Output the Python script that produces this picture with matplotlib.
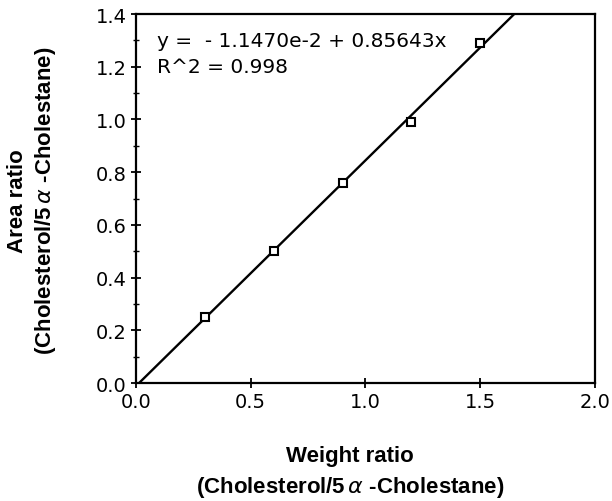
import matplotlib.pyplot as plt
import numpy as np
from matplotlib.ticker import MultipleLocator

plt.rcParams['font.family'] = ['DejaVu Sans']

# data
weight_ratio = [0.3, 0.6, 0.9, 1.2, 1.5]
area_ratio = [0.25, 0.50, 0.76, 0.99, 1.29]
intercept = -1.1470e-2
slope = 0.85643

fig = plt.figure(figsize=(6.12, 5.02), dpi=100)
ax = fig.add_axes([0.2222, 0.235, 0.75, 0.735])

xfit = np.array([0.0, 2.0])
ax.plot(xfit, intercept + slope * xfit, color='black', linewidth=1.7)
ax.plot(weight_ratio, area_ratio, linestyle='none', marker='s', markersize=5.5,
        markerfacecolor='white', markeredgecolor='black', markeredgewidth=1.5)

ax.set_xlim(0, 2.0)
ax.set_ylim(0, 1.4)
ax.xaxis.set_major_locator(MultipleLocator(0.5))
ax.yaxis.set_major_locator(MultipleLocator(0.2))
ax.yaxis.set_minor_locator(MultipleLocator(0.1))
ax.tick_params(axis='both', which='major', direction='inout', length=7, width=1.3,
               labelsize=14, pad=3)
ax.tick_params(axis='y', which='minor', direction='inout', length=4, width=1)
for sp in ax.spines.values():
    sp.set_linewidth(1.6)

ax.text(0.09, 1.3, 'y =  - 1.1470e-2 + 0.85643x', fontsize=14.5, va='center')
ax.text(0.09, 1.2, 'R^2 = 0.998', fontsize=14.5, va='center')

lab_font = ['Liberation Sans', 'DejaVu Sans']
fig.text(0.572, 0.057, 'Weight ratio\n(Cholesterol/5$\\,\\alpha$ -Cholestane)',
         ha='center', va='center', fontsize=16, fontweight='bold', linespacing=1.45,
         family=lab_font)
fig.text(0.053, 0.60, 'Area ratio\n(Cholesterol/5$\\,\\alpha$ -Cholestane)',
         ha='center', va='center', fontsize=16, fontweight='bold', rotation=90,
         linespacing=1.3, family=lab_font)

fig.savefig('out.png', dpi=100)
